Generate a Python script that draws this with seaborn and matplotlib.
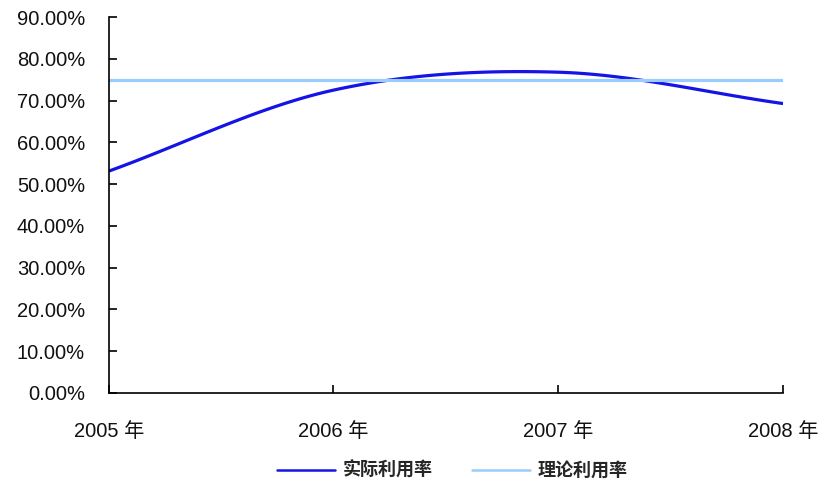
import numpy as np
import pandas as pd
import matplotlib
matplotlib.use("Agg")
import matplotlib.pyplot as plt
import seaborn as sns

# Utilisation rates by year
years = ["2005 年", "2006 年", "2007 年", "2008 年"]
actual_rate = [53.1, 72.5, 76.8, 69.3]       # 实际利用率 (%)
theoretical_rate = [75.0, 75.0, 75.0, 75.0]  # 理论利用率 (%)
y_ticks = [0, 10, 20, 30, 40, 50, 60, 70, 80, 90]


def smooth_curve(xs, ys, steps=40):
    """Catmull-Rom spline through the points, as used for smoothed line charts."""
    xs = np.asarray(xs, float)
    ys = np.asarray(ys, float)
    px = np.concatenate([[2 * xs[0] - xs[1]], xs, [2 * xs[-1] - xs[-2]]])
    py = np.concatenate([[2 * ys[0] - ys[1]], ys, [2 * ys[-1] - ys[-2]]])
    out_x, out_y = [], []
    for i in range(1, len(px) - 2):
        t = np.linspace(0, 1, steps, endpoint=(i == len(px) - 3))
        for p, out in ((px, out_x), (py, out_y)):
            p0, p1, p2, p3 = p[i - 1], p[i], p[i + 1], p[i + 2]
            out.extend(0.5 * ((2 * p1) + (-p0 + p2) * t
                              + (2 * p0 - 5 * p1 + 4 * p2 - p3) * t ** 2
                              + (-p0 + 3 * p1 - 3 * p2 + p3) * t ** 3))
    return np.array(out_x), np.array(out_y)


sns.set_style("white")
plt.rcParams["font.family"] = ["Liberation Sans", "Noto Sans CJK SC", "DejaVu Sans"]

fig = plt.figure(figsize=(8.3, 4.88), dpi=100)
ax = fig.add_axes([0.131, 0.195, 0.812, 0.770])

x_idx = np.arange(len(years))
cx, cy = smooth_curve(x_idx, actual_rate)
actual_df = pd.DataFrame({"x": cx, "y": cy})
theory_df = pd.DataFrame({"x": x_idx, "y": theoretical_rate})

sns.lineplot(data=actual_df, x="x", y="y", ax=ax, color="#1414E6",
             linewidth=2.3, label="实际利用率", sort=False)
sns.lineplot(data=theory_df, x="x", y="y", ax=ax, color="#99CCFF",
             linewidth=2.3, label="理论利用率")

ax.set_xlim(0, len(years) - 1)
ax.set_ylim(0, 90)
ax.set_xticks(x_idx)
ax.set_xticklabels(years)
ax.set_yticks(y_ticks)
ax.set_yticklabels([f"{v:.2f}%" for v in y_ticks])
ax.set_xlabel("")
ax.set_ylabel("")

for side in ("top", "right"):
    ax.spines[side].set_visible(False)
for side in ("left", "bottom"):
    ax.spines[side].set_color("black")
    ax.spines[side].set_linewidth(1.2)

ax.tick_params(axis="y", direction="in", length=6, width=1.2, color="black",
               labelsize=14.5, pad=17, left=True)
ax.tick_params(axis="x", direction="in", length=6, width=1.2, color="black",
               labelsize=14.5, pad=21, bottom=True)
for lab in ax.get_xticklabels() + ax.get_yticklabels():
    lab.set_color("#111111")

ax.get_legend().remove()
handles, labels = ax.get_legend_handles_labels()
leg = fig.legend(handles, labels, loc="center", bbox_to_anchor=(0.545, 0.035),
                 ncol=2, frameon=False, handlelength=3.2,
                 columnspacing=2.2, handletextpad=0.4,
                 prop={"size": 13, "weight": "bold"})
for line in leg.get_lines():
    line.set_linewidth(1.8)

fig.savefig("out.png", dpi=100, facecolor="white")
